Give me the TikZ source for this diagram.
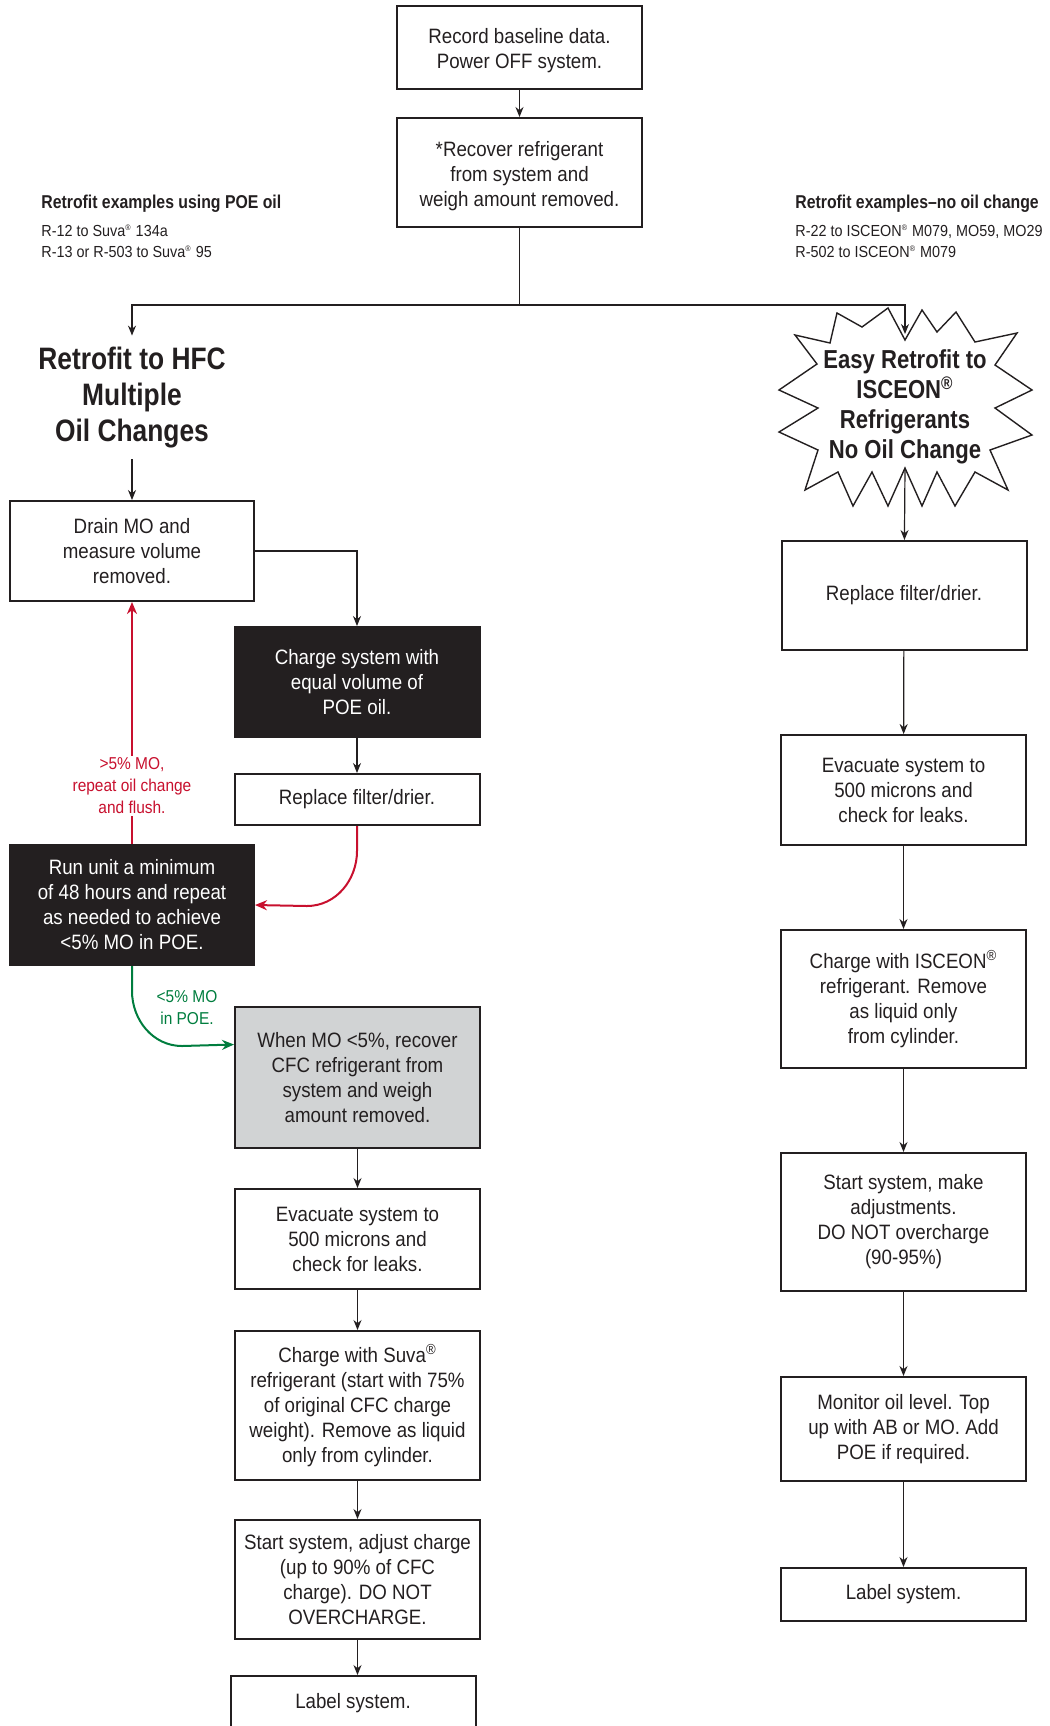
\documentclass[tikz,border=0pt]{standalone}
\usepackage{fontspec}
\setmainfont{Liberation Sans}[FakeStretch=0.9]
\newfontfamily\headfont{Liberation Sans}[FakeStretch=0.85]
\usetikzlibrary{arrows.meta}
\definecolor{inkblack}{RGB}{35,31,32}
\definecolor{boxgray}{RGB}{209,211,212}
\definecolor{flushred}{RGB}{200,16,46}
\definecolor{passgreen}{RGB}{0,125,62}
\newcommand{\regmark}{\textsuperscript{\fontsize{4}{4}\selectfont ®}}
\tikzset{
stepbox/.style={draw=inkblack, line width=1pt, minimum width=122.5pt, align=center,
  inner sep=0pt, text=inkblack, font=\fontsize{10.4}{12.5}\selectfont},
darkbox/.style={stepbox, fill=inkblack, text=white},
graybox/.style={stepbox, fill=boxgray},
flow/.style={draw=inkblack, line width=0.6pt, -{Stealth[length=5pt,width=4pt]}},
redflow/.style={draw=flushred, line width=1pt, -{Stealth[length=6pt,width=5pt]}},
greenflow/.style={draw=passgreen, line width=1pt, -{Stealth[length=6pt,width=5pt]}},
exhead/.style={inner sep=0pt, text=inkblack, font=\headfont\bfseries\fontsize{9.3}{11}\selectfont},
exlist/.style={inner sep=0pt, align=left, text=inkblack, font=\fontsize{8}{10.5}\selectfont},
bigtitle/.style={inner sep=5.5pt, align=center, text=inkblack,
  font=\headfont\bfseries\fontsize{15.5}{18}\selectfont},
bursttext/.style={inner sep=0pt, align=center, text=inkblack,
  font=\headfont\bfseries\fontsize{13}{15}\selectfont},
notelbl/.style={inner sep=1pt, align=center, font=\fontsize{8.6}{11}\selectfont}
}

\begin{document}
\begin{tikzpicture}[x=0.5pt,y=-0.5pt]
\useasboundingbox (0,0) rectangle (1050,1726);

\node[stepbox, minimum height=41.5pt] (rec) at (519.5,47) {\rule{0pt}{11.5pt}Record baseline data.\\Power OFF system.};
\node[stepbox, minimum height=54.5pt] (recov) at (519.5,172.5) {\rule{0pt}{11.5pt}*Recover refrigerant\\from system and\\weigh amount removed.};

\node[exhead, anchor=west] (poehd) at (41,204) {Retrofit examples using POE oil};
\node[exlist, anchor=west] (poeex) at (41,241.5) {R-12 to Suva\regmark{} 134a\\R-13 or R-503 to Suva\regmark{} 95};
\node[exhead, anchor=west] (isohd) at (795,204) {Retrofit examples–no oil change};
\node[exlist, anchor=west] (isoex) at (795,241.5) {R-22 to ISCEON\regmark{} M079, MO59, MO29\\R-502 to ISCEON\regmark{} M079};

% left branch
\node[bigtitle] (hfctitle) at (132,397.5) {Retrofit to HFC\\Multiple\\Oil Changes};
\node[stepbox, minimum width=122pt, minimum height=50pt] (drain) at (132,551) {Drain MO and\\measure volume\\removed.};
\node[darkbox, minimum height=55pt] (chg) at (357,682) {Charge system with\\equal volume of\\POE oil.};
\node[stepbox, minimum height=25.5pt] (repL) at (357,799.5) {Replace filter/drier.};
\node[darkbox, minimum width=122pt, minimum height=60pt] (run) at (132,905) {Run unit a minimum\\of 48 hours and repeat\\as needed to achieve\\<5\% MO in POE.};
\node[graybox, minimum height=70.5pt] (when) at (357.5,1077.5) {When MO <5\%, recover\\CFC refrigerant from\\system and weigh\\amount removed.};
\node[stepbox, minimum height=50pt] (evacL) at (357.5,1239) {Evacuate system to\\500 microns and\\check for leaks.};
\node[stepbox, minimum height=74.5pt] (suva) at (357.5,1405.5) {Charge with Suva\textsuperscript{®}\\refrigerant (start with 75\%\\of original CFC charge\\weight). Remove as liquid\\only from cylinder.};
\node[stepbox, minimum height=59.5pt] (startL) at (357.5,1579.5) {Start system, adjust charge\\(up to 90\% of CFC\\charge). DO NOT\\OVERCHARGE.};
\node[stepbox, minimum height=27pt] (labelL) at (353,1703) {Label system.};

% right branch
\draw[line width=0.7pt, draw=inkblack, fill=white] (905,340) -- (922,310) -- (937,332) -- (956,312)
  -- (975,342) -- (1017,333) -- (995,365) -- (1032,390) -- (995,408) -- (1032,435)
  -- (990,450) -- (1008,490) -- (975,472) -- (955,506) -- (937,472) -- (922,506)
  -- (905,468) -- (888,506) -- (872,472) -- (853,506) -- (838,472) -- (805,490)
  -- (818,450) -- (779,432) -- (818,408) -- (779,390) -- (817,364) -- (795,335)
  -- (830,343) -- (837,313) -- (862,327) -- (888,308) -- cycle;
\node[bursttext] (isceon) at (905,407) {Easy Retrofit to\\ISCEON\textsuperscript{®}\\Refrigerants\\No Oil Change};
\coordinate (burstin) at (905,334);
\coordinate (burstout) at (905,468);
\node[stepbox, minimum height=54.5pt] (repR) at (904,595.5) {Replace filter/drier.};
\node[stepbox, minimum height=55pt] (evacR) at (903.5,790) {Evacuate system to\\500 microns and\\check for leaks.};
\node[stepbox, minimum height=69pt] (iscR) at (903.5,999) {Charge with ISCEON\textsuperscript{®}\\refrigerant. Remove\\as liquid only\\from cylinder.};
\node[stepbox, minimum height=69pt] (startR) at (903.5,1222) {Start system, make\\adjustments.\\DO NOT overcharge\\(90-95\%)};
\node[stepbox, minimum height=52pt] (mon) at (903.5,1429) {Monitor oil level. Top\\up with AB or MO. Add\\POE if required.};
\node[stepbox, minimum height=26.5pt] (labelR) at (903.5,1594.5) {Label system.};

% connectors
\coordinate (fork) at (519.5,305);
\draw[flow] (rec) -- (recov);
\draw[flow] (recov.south) -- (fork) -| (hfctitle.north);
\draw[flow] (fork) -| (burstin);
\draw[flow] (hfctitle) -- (drain);
\draw[flow] (drain.east) -| (chg.north);
\draw[flow] (chg) -- (repL);
\draw[redflow] (repL.south) -- ++(0,25) to[out=-90,in=0] ++(-50,55) -- (run.east);
\draw[redflow] (run.north) -- node[notelbl, pos=0.24, fill=white, text=flushred] (morelbl)
  {>5\% MO,\\repeat oil change\\and flush.} (drain.south);
\draw[greenflow] (run.south) -- ++(0,25) to[out=-90,in=180] ++(50,55) -- ([yshift=16.5pt]when.west);
\node[notelbl, text=passgreen] (lesslbl) at (187,1008) {<5\% MO\\in POE.};
\draw[flow] (when) -- (evacL);
\draw[flow] (evacL) -- (suva);
\draw[flow] (suva) -- (startL);
\draw[flow] (startL) -- (startL |- labelL.north);
\draw[flow] (burstout) -- (repR);
\draw[flow] (repR) -- (evacR);
\draw[flow] (evacR) -- (iscR);
\draw[flow] (iscR) -- (startR);
\draw[flow] (startR) -- (mon);
\draw[flow] (mon) -- (labelR);
\end{tikzpicture}
\end{document}
